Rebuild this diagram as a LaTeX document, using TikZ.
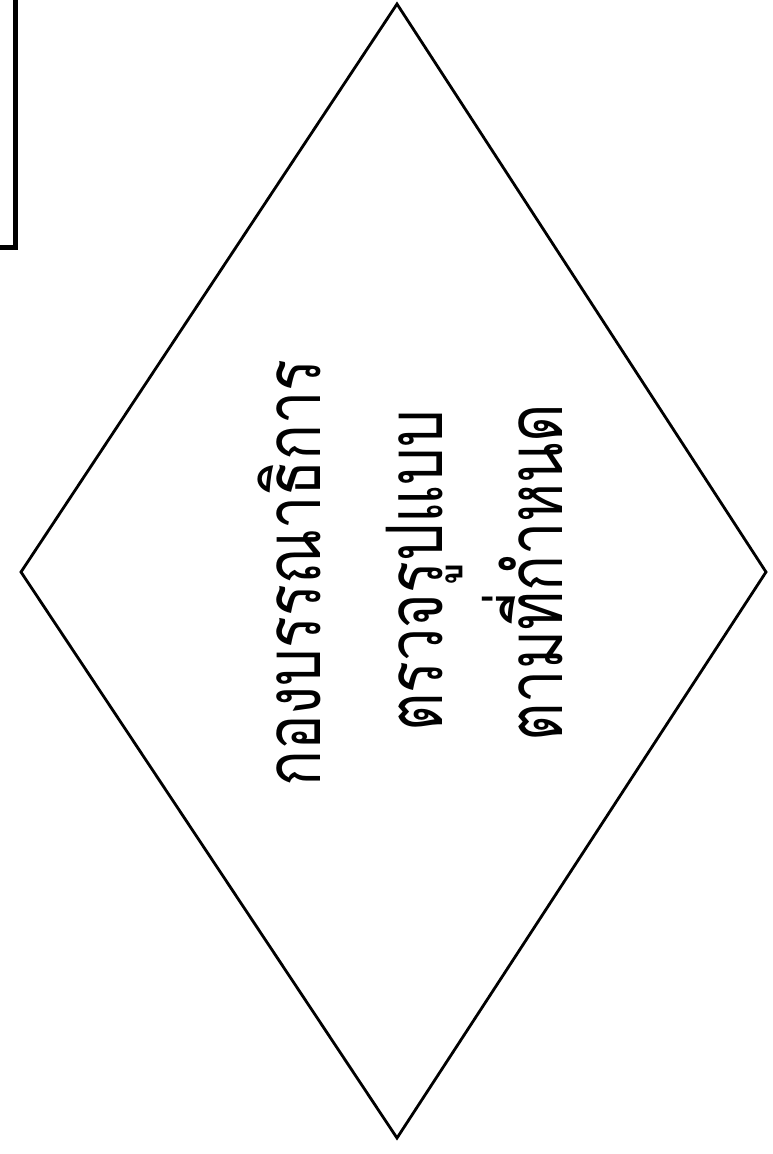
\documentclass[tikz,border=0pt]{standalone}
\usepackage{fontspec}
\newfontfamily\thaifont[Script=Thai]{Loma}
\begin{document}
\begin{tikzpicture}[x=1pt,y=-1pt,
  edge/.style={draw=black,line width=2.8pt,line join=miter},
  frame/.style={draw=black,line width=5pt},
  vtext/.style={rotate=90,anchor=base,inner sep=0pt,font=\thaifont\fontsize{78}{90}\selectfont}]
\useasboundingbox (0,0) rectangle (772,1154);
\fill[white] (0,0) rectangle (772,1154);
% partial box at top-left
\coordinate (bxa) at (15,-10);
\coordinate (bxb) at (15,247);
\coordinate (bxc) at (-10,247);
\draw[frame] (bxa) -- (bxb) -- (bxc);
% decision diamond
\coordinate (dt) at (397,4);
\coordinate (dr) at (766,572);
\coordinate (db) at (397,1138);
\coordinate (dl) at (21,572);
\draw[edge] (dt) -- (dr) -- (db) -- (dl) -- cycle;
% rotated text lines
\node[vtext] (t1) at (320,573) {\scalebox{0.76}[1]{กองบรรณาธิการ}};
\node[vtext] (t2) at (442,571) {\scalebox{0.76}[1]{ตรวจรูปแบบ}};
\node[vtext] (t3) at (562,573) {\scalebox{0.76}[1]{ตามที่กำหนด}};
\end{tikzpicture}
\end{document}
